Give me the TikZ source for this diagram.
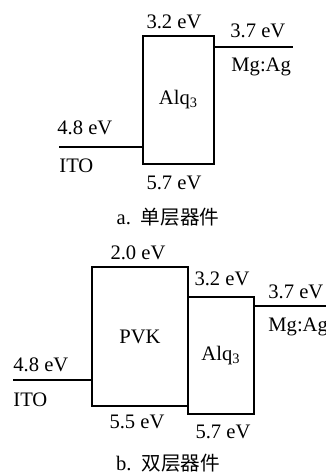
\documentclass[tikz,border=0pt]{standalone}
\usepackage{fontspec}
\setmainfont{Liberation Serif}
\newfontfamily\cjk{Noto Sans CJK SC}
\usetikzlibrary{positioning}

\begin{document}
\begin{tikzpicture}[
		x=0.5pt, y=-0.5pt,
		font=\fontsize{10.3}{12}\selectfont,
		nivel/.style={
				draw,
				line width=1pt,
				inner sep=0pt
			},
		rotulo/.style={inner sep=0pt},
		legenda/.style={inner sep=0pt},
		eletrodo/.style={line width=1pt}
	]
	\useasboundingbox (0,0) rectangle (325,474);

	% a. dispositivo de camada simples
	\node[nivel, minimum width=35.5pt, minimum height=64pt] (alqA) at (178.5,100) {Alq\textsubscript{3}};
	\coordinate (itoA) at (59,147);
	\coordinate (mgA) at (293,47);
	\draw[eletrodo] (itoA) -- (itoA -| alqA.west);
	\draw[eletrodo] (mgA -| alqA.east) -- (mgA);

	\node[rotulo] (homoA) at (174,22) {3.2 eV};
	\node[rotulo] (lumoA) at (174,183) {5.7 eV};
	\node[rotulo, anchor=west] (itoAe) at (57,128) {4.8 eV};
	\node[rotulo, anchor=west] (itoAn) at (59,166) {ITO};
	\node[rotulo, anchor=west] (mgAe) at (230,31) {3.7 eV};
	\node[rotulo, anchor=west] (mgAn) at (231,67) {Mg:Ag};
	\node[legenda] (capA) at (168,217) {a.\hspace{5pt}{\cjk\fontsize{9.8}{12}\selectfont 单层器件}};

	% b. dispositivo de camada dupla
	\node[nivel, minimum width=48pt, minimum height=69.5pt] (pvkB) at (140,336.5) {PVK};
	\node[nivel, minimum width=33pt, minimum height=58.5pt] (alqB) at (221,355.5) {Alq\textsubscript{3}};
	\coordinate (itoB) at (13,380);
	\coordinate (mgB) at (330,306);
	\draw[eletrodo] (itoB) -- (itoB -| pvkB.west);
	\draw[eletrodo] (mgB -| alqB.east) -- (mgB);

	\node[rotulo] (pvkBh) at (138,253) {2.0 eV};
	\node[rotulo] (alqBh) at (222,279) {3.2 eV};
	\node[rotulo] (pvkBl) at (137,422) {5.5 eV};
	\node[rotulo] (alqBl) at (223,432) {5.7 eV};
	\node[rotulo, anchor=west] (itoBe) at (13,365) {4.8 eV};
	\node[rotulo, anchor=west] (itoBn) at (13,400) {ITO};
	\node[rotulo, anchor=west] (mgBe) at (268,292) {3.7 eV};
	\node[rotulo, anchor=west] (mgBn) at (268,327) {Mg:Ag};
	\node[legenda] (capB) at (168,463) {b.\hspace{5pt}{\cjk\fontsize{9.8}{12}\selectfont 双层器件}};
\end{tikzpicture}
\end{document}
